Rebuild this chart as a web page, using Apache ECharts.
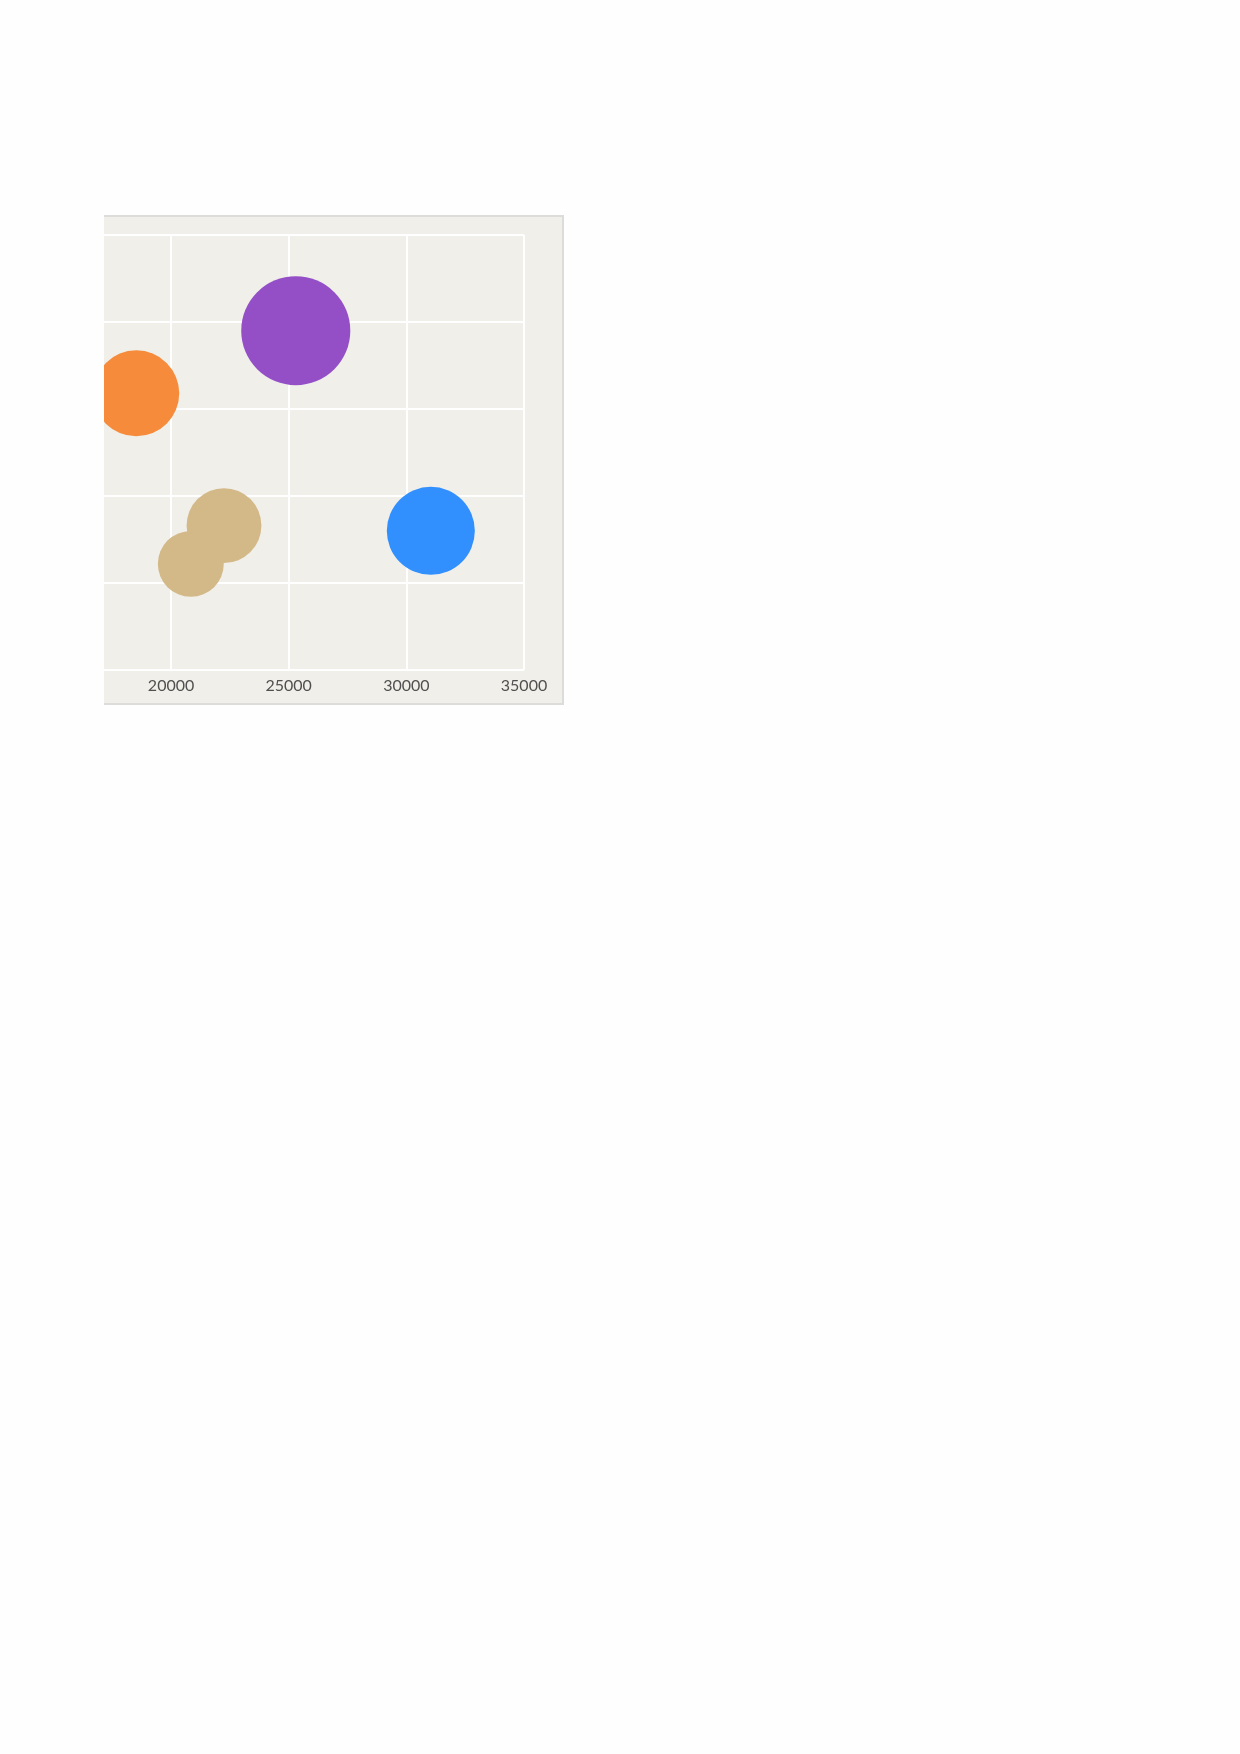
<!DOCTYPE html>
<html>
<head>
<meta charset="utf-8">
<script src="https://cdn.jsdelivr.net/npm/echarts@6/dist/echarts.min.js"></script>
<style>
  html, body { margin: 0; padding: 0; background: #fefefe; width: 1240px; height: 1754px; }
  #frame {
    position: absolute; left: 104px; top: 215px; width: 460px; height: 490px;
    box-sizing: border-box; overflow: hidden; background: #f0efea;
    border-top: 2px solid #dcdcda; border-right: 2px solid #dcdcda; border-bottom: 2px solid #dcdcda;
  }
  #chart { position: absolute; left: -104px; top: 0; width: 562px; height: 486px; }
</style>
</head>
<body>
<div id="frame"><div id="chart"></div></div>
<script>
// Data
const xValues = [25300, 18520, 31040, 22250, 20840];
const yValues = [79.5, 75.9, 68.0, 68.3, 66.1];
const weights = [119, 74, 77.5, 56, 43.5];   // bubble magnitude (area-proportional)
const groups  = ['P', 'O', 'B', 'T', 'T'];
const xTicks = [15000, 20000, 25000, 30000, 35000];
const yTicks = [60, 65, 70, 75, 80, 85];

const palette = { P: '#944fc7', O: '#f58b3b', B: '#318ffe', T: '#d4b988' };

const points = xValues.map((x, i) => ({
  value: [x, yValues[i], weights[i]],
  itemStyle: { color: palette[groups[i]], opacity: 1 }
}));

const chart = echarts.init(document.getElementById('chart'), null, { renderer: 'canvas' });
chart.setOption({
  backgroundColor: '#f0efea',
  animation: false,
  grid: { left: 53.4, right: 38, top: 18, bottom: 33 },
  xAxis: {
    type: 'value',
    min: xTicks[0], max: xTicks[xTicks.length - 1], interval: 5000,
    axisLine: { show: false }, axisTick: { show: false },
    splitLine: { show: true, lineStyle: { color: '#ffffff', width: 2 } },
    axisLabel: { color: '#505050', fontFamily: 'Lato', fontSize: 16, margin: 8,
                 formatter: function (v) { return String(v); } }
  },
  yAxis: {
    type: 'value',
    min: yTicks[0], max: yTicks[yTicks.length - 1], interval: 5,
    axisLine: { show: false }, axisTick: { show: false },
    splitLine: { show: true, lineStyle: { color: '#ffffff', width: 2 } },
    axisLabel: { color: '#505050', fontFamily: 'Lato', fontSize: 16 }
  },
  series: [{
    type: 'scatter',
    data: points,
    symbol: 'circle',
    symbolSize: function (v) { return 10 * Math.sqrt(v[2]); },
    emphasis: { disabled: true }
  }]
});
</script>
</body>
</html>
